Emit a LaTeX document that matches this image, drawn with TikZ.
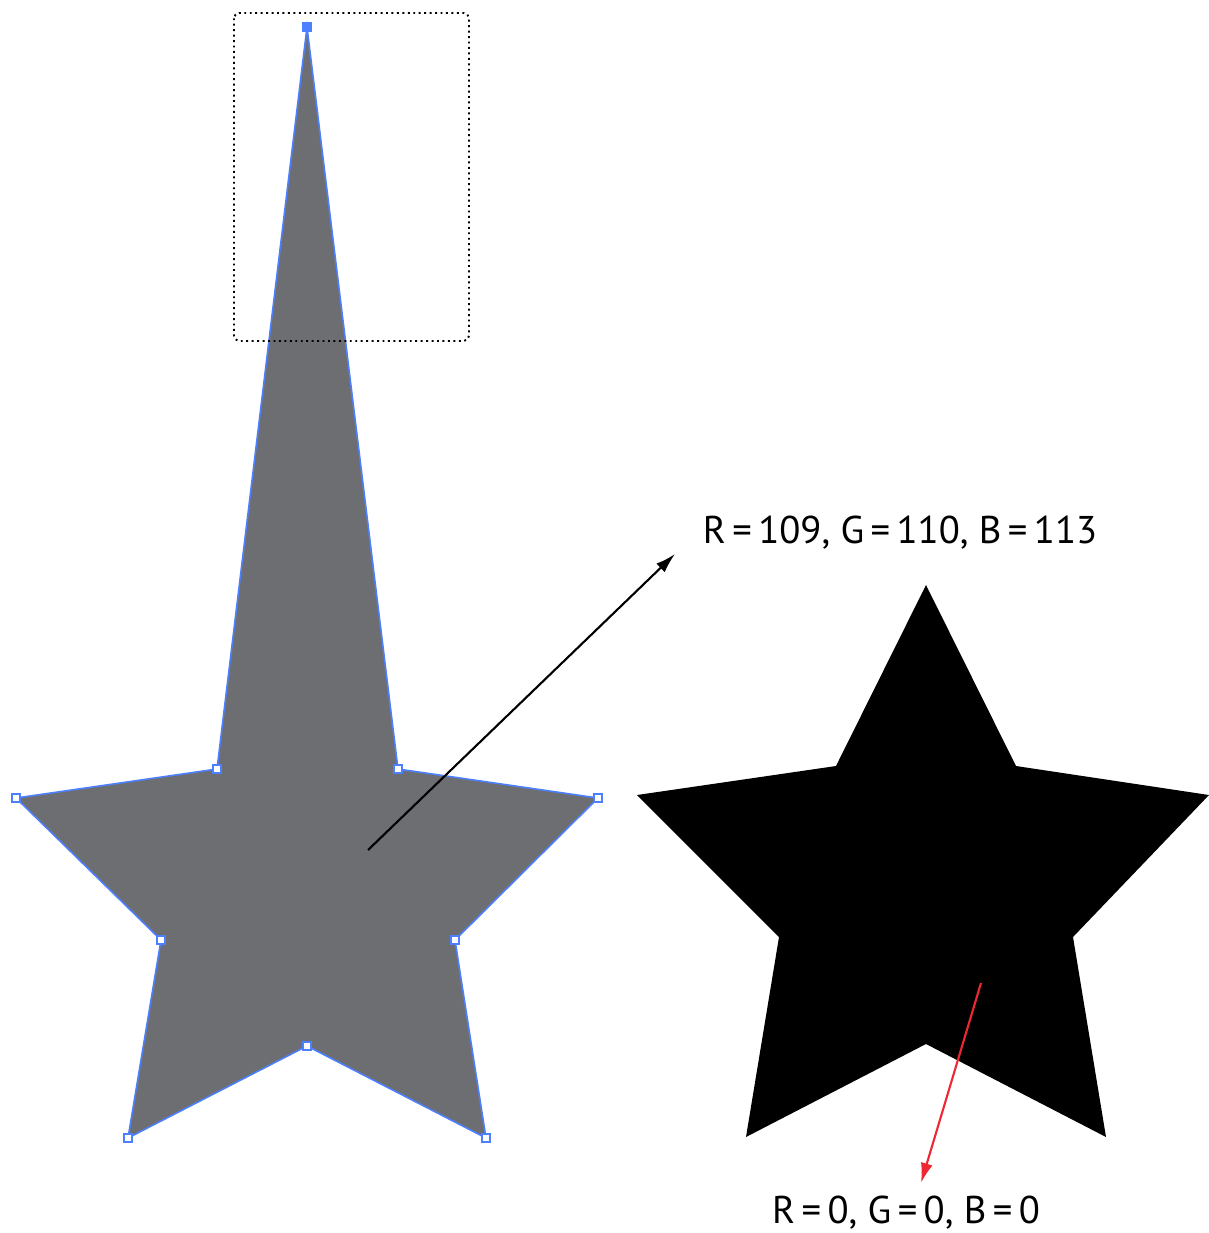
\documentclass[tikz,border=0pt]{standalone}
\usepackage{fontspec}
\setmainfont{PT Sans}
\usetikzlibrary{arrows.meta}
\definecolor{stargrey}{RGB}{109,110,113}
\definecolor{selblue}{RGB}{77,128,255}
\definecolor{pickred}{RGB}{237,40,50}

\begin{document}
\begin{tikzpicture}[x=0.01cm,y=-0.01cm,
    outline/.style={draw=selblue, line width=0.45pt},
    handle/.style={draw=selblue, fill=white, line width=0.45pt, inner sep=0pt, minimum size=0.075cm},
    rgblabel/.style={font=\fontsize{11}{13}\selectfont, inner sep=0pt},
    pointer/.style={line width=0.6pt, -{Latex[length=0.2cm, width=0.12cm]}}]
    % Keep the reference margins
    \useasboundingbox (0,0) rectangle (1209,1233);

    % Grey star with the stretched top spike
    \coordinate (g0) at (307,27);
    \coordinate (g1) at (398,769);
    \coordinate (g2) at (598,798);
    \coordinate (g3) at (455,940);
    \coordinate (g4) at (486,1138);
    \coordinate (g5) at (307,1046);
    \coordinate (g6) at (128,1138);
    \coordinate (g7) at (161,940);
    \coordinate (g8) at (16,798);
    \coordinate (g9) at (217,769);
    \filldraw[fill=stargrey, outline] (g0) -- (g1) -- (g2) -- (g3) -- (g4)
        -- (g5) -- (g6) -- (g7) -- (g8) -- (g9) -- cycle;

    % Selection handles
    \foreach \p in {g1,g2,g3,g4,g5,g6,g7,g8,g9} {
        \node[handle] (h-\p) at (\p) {};
    }
    \node[handle, fill=selblue, minimum size=0.09cm] (h-g0) at (g0) {};

    % Dotted box round the spike
    \draw[densely dotted, line width=0.55pt, rounded corners=1.5pt] (234,13) rectangle (469,341);

    % Black star
    \fill[black] (926,585) -- (1016,766) -- (1209,795) -- (1073,937) -- (1106,1137)
        -- (926,1044) -- (746,1137) -- (779,937) -- (637,795) -- (836,766) -- cycle;

    % Colour values
    \node[rgblabel] (greyrgb) at (900,533) {R\,=\,109, G\,=\,110, B\,=\,113};
    \node[rgblabel] (blackrgb) at (906,1213) {R\,=\,0, G\,=\,0, B\,=\,0};

    % Pointers
    \coordinate (greypick) at (368,850);
    \coordinate (greytip) at (675,554);
    \coordinate (blackpick) at (981,983);
    \coordinate (blacktip) at (921,1183);
    \draw[pointer] (greypick) -- (greytip);
    \draw[pointer, pickred] (blackpick) -- (blacktip);

\end{tikzpicture}
\end{document}
